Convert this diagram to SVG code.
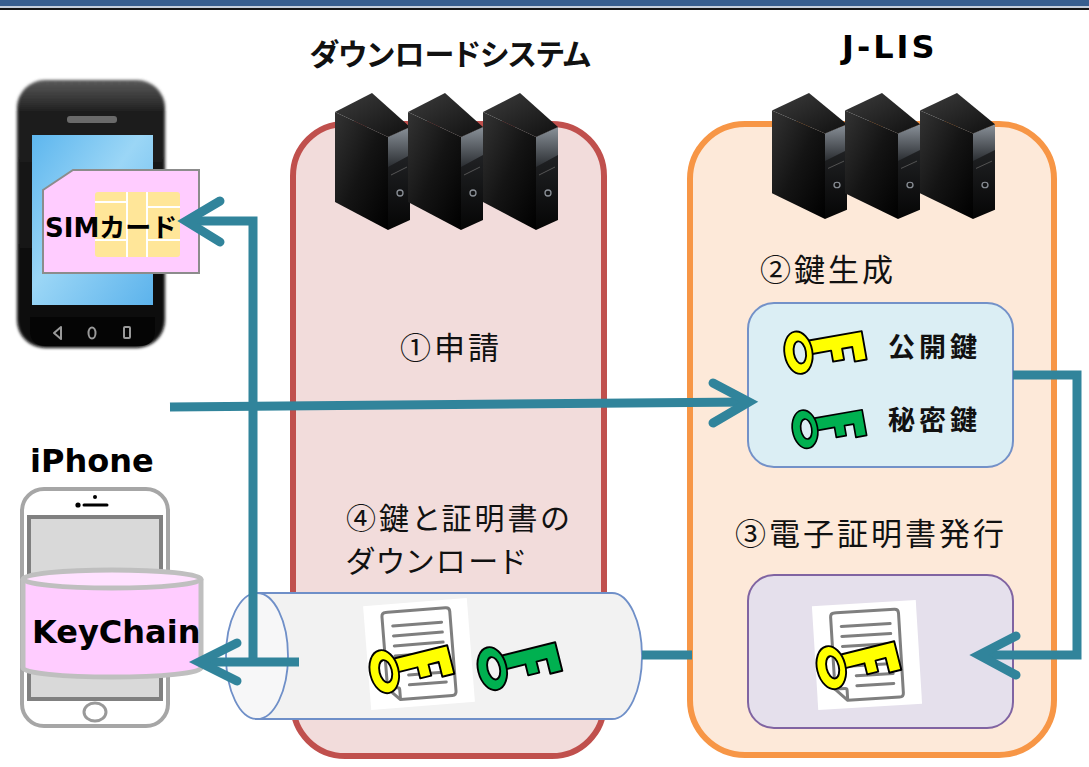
<svg xmlns="http://www.w3.org/2000/svg" xmlns:xlink="http://www.w3.org/1999/xlink" width="1089" height="767" viewBox="0 0 1089 767">
  <style>
    .jp { font-family: "Noto Sans CJK JP", "Noto Sans CJK SC", sans-serif; font-feature-settings: "palt"; fill: #111; }
    .lbl { font-size: 31px; letter-spacing: 3px; }
    .lbl2 { font-size: 30px; letter-spacing: 3px; }
    .title { font-size: 30px; font-weight: bold; }
    .kname { font-size: 27px; font-weight: bold; letter-spacing: 4px; }
    .en { font-family: "DejaVu Sans", "Noto Sans CJK JP", sans-serif; font-weight: bold; fill: #000; }
    .flow { fill: none; stroke: #31849b; stroke-width: 9; stroke-linejoin: miter; }
    .head { fill: none; stroke: #31849b; stroke-width: 9; stroke-linecap: round; stroke-linejoin: miter; }
    .keyline { stroke: #000; stroke-width: 2; stroke-linejoin: round; }
    .page-line { stroke: #7f7f7f; stroke-width: 3; stroke-linecap: round; }
  </style>
  <defs>
    <linearGradient id="srvFront" x1="0" y1="0" x2="1" y2="1">
      <stop offset="0" stop-color="#333"/>
      <stop offset="0.5" stop-color="#141414"/>
      <stop offset="1" stop-color="#000"/>
    </linearGradient>
    <linearGradient id="srvSide" x1="0" y1="0" x2="0" y2="1">
      <stop offset="0" stop-color="#2a2c2f"/>
      <stop offset="1" stop-color="#050505"/>
    </linearGradient>
    <linearGradient id="srvTop" x1="0" y1="0" x2="1" y2="1">
      <stop offset="0" stop-color="#3c3c3c"/>
      <stop offset="1" stop-color="#101010"/>
    </linearGradient>
    <linearGradient id="srvGlare" x1="0" y1="0" x2="0" y2="1">
      <stop offset="0" stop-color="#8a9199"/>
      <stop offset="1" stop-color="#2a2d31"/>
    </linearGradient>
    <linearGradient id="phoneBody" x1="0" y1="0" x2="0" y2="1">
      <stop offset="0" stop-color="#5a5a5a"/>
      <stop offset="0.12" stop-color="#1e1e1e"/>
      <stop offset="1" stop-color="#080808"/>
    </linearGradient>
    <linearGradient id="screen" x1="0" y1="0" x2="1" y2="1">
      <stop offset="0" stop-color="#5db6ee"/>
      <stop offset="0.45" stop-color="#9bd6f6"/>
      <stop offset="1" stop-color="#5cb3ec"/>
    </linearGradient>
    <filter id="soft" x="-10%" y="-10%" width="120%" height="120%">
      <feGaussianBlur stdDeviation="1.6"/>
    </filter>

    <!-- tower server, isometric -->
    <symbol id="server" overflow="visible">
      <polygon points="0,19 53,44 53,137 0,109" fill="url(#srvFront)"/>
      <polygon points="53,44 75,34 75,127 53,137" fill="url(#srvSide)"/>
      <polygon points="53,44 75,34 75,62 53,74" fill="url(#srvGlare)"/>
      <polygon points="0,19 37,0 75,34 53,44" fill="url(#srvTop)"/>
      <line x1="56" y1="82" x2="72" y2="74" stroke="#555" stroke-width="1"/>
      <circle cx="65" cy="100" r="3" fill="none" stroke="#8a8f96" stroke-width="1.3"/>
    </symbol>

    <!-- key: shaft with teeth, then ring with hole -->
    <symbol id="key" overflow="visible">
      <path class="keyline" d="M26,14 H87 V45 H74 V29 H63 V41 H51 V29 H26 Z"/>
      <path class="keyline" fill-rule="evenodd" d="M1,25 a15,23 0 1 0 30,0 a15,23 0 1 0 -30,0 Z M11,25 a6.5,12 0 1 0 13,0 a6.5,12 0 1 0 -13,0 Z"/>
    </symbol>

    <!-- certificate page on a white card -->
    <symbol id="cert" overflow="visible">
      <rect x="0" y="0" width="104" height="104" fill="#fff"/>
      <path d="M24,8 H82 Q86,8 86,12 V92 Q86,96 82,96 H30 L18,84 V12 Q18,8 22,8 Z" fill="#fff" stroke="#7f7f7f" stroke-width="3" stroke-linejoin="round"/>
      <path d="M18,84 H28 Q30,84 30,86 V96" fill="none" stroke="#7f7f7f" stroke-width="3" stroke-linejoin="round"/>
      <line class="page-line" x1="28" y1="22" x2="77" y2="22"/>
      <line class="page-line" x1="28" y1="32" x2="77" y2="32"/>
      <line class="page-line" x1="28" y1="42" x2="77" y2="42"/>
      <line class="page-line" x1="28" y1="52" x2="77" y2="52"/>
      <line class="page-line" x1="28" y1="62" x2="77" y2="62"/>
      <line class="page-line" x1="40" y1="72" x2="77" y2="72"/>
      <line class="page-line" x1="40" y1="82" x2="77" y2="82"/>
    </symbol>
  </defs>

  <rect width="1089" height="767" fill="#fff"/>

  <!-- header rule -->
  <rect x="0" y="0" width="1089" height="6" fill="#375e8f"/>
  <rect x="0" y="6" width="1089" height="2" fill="#c4cedc"/>
  <rect x="0" y="8" width="1089" height="2" fill="#151515"/>

  <!-- download system -->
  <g id="download-system">
    <rect x="293" y="124" width="311" height="632" rx="52" fill="#f2dcdb" stroke="#c0504d" stroke-width="6"/>
    <text class="jp title" x="450" y="65" text-anchor="middle">ダウンロードシステム</text>
    <use href="#server" x="335" y="93"/>
    <use href="#server" x="408" y="93"/>
    <use href="#server" x="483" y="93"/>
    <text class="jp lbl" x="451" y="359" text-anchor="middle">①申請</text>
    <text class="jp lbl2" x="346" y="529">④鍵と証明書の</text>
    <text class="jp lbl2" x="346" y="572">ダウンロード</text>
  </g>

  <!-- J-LIS -->
  <g id="jlis">
    <rect x="690" y="124" width="364" height="631" rx="55" fill="#fde9d9" stroke="#f79646" stroke-width="6"/>
    <text class="en" x="842" y="58" font-size="32" letter-spacing="3">J-LIS</text>
    <g transform="translate(772,93) scale(1,0.92)">
      <use href="#server" x="0" y="0"/>
      <use href="#server" x="73" y="0"/>
      <use href="#server" x="148" y="0"/>
    </g>
    <text class="jp lbl" x="760" y="281">②鍵生成</text>
    <text class="jp lbl" x="735" y="545">③電子証明書発行</text>
  </g>

  <!-- key pair -->
  <g id="key-pair">
    <rect x="748" y="303" width="265" height="164" rx="26" fill="#dbeef4" stroke="#7391c8" stroke-width="2"/>
    <use href="#key" fill="#ffff00" transform="translate(825,348) rotate(-10) scale(0.93) translate(-45,-25)"/>
    <use href="#key" fill="#00b050" transform="translate(829,425) rotate(-10) scale(0.84) translate(-45,-25)"/>
    <text class="jp kname" x="888" y="357">公開鍵</text>
    <text class="jp kname" x="888" y="430">秘密鍵</text>
  </g>

  <!-- issued certificate -->
  <g id="certificate">
    <rect x="748" y="575" width="265" height="153" rx="26" fill="#e5e0ec" stroke="#8064a2" stroke-width="2"/>
    <use href="#cert" transform="translate(867,655) rotate(-3.5) translate(-52,-52)"/>
    <use href="#key" fill="#ffff00" transform="translate(858,661) rotate(-14) scale(0.95) translate(-45,-25)"/>
  </g>

  <!-- delivery pipe -->
  <g id="pipe">
    <path d="M257,593 H612 A30,63 0 0 1 612,719 H257 Z" fill="#f2f2f2" stroke="#6f8fc8" stroke-width="1.8"/>
    <ellipse cx="257" cy="656" rx="31" ry="63" fill="#f7f7f8" stroke="#6f8fc8" stroke-width="1.8"/>
    <use href="#cert" transform="translate(419,654) rotate(-4.5) translate(-52,-52)"/>
    <use href="#key" fill="#ffff00" transform="translate(411,665) rotate(-14) scale(0.95) translate(-45,-25)"/>
    <use href="#key" fill="#00b050" transform="translate(519,662) rotate(-14) scale(0.95) translate(-45,-25)"/>
  </g>

  <!-- Android handset with SIM -->
  <g id="android-phone">
    <rect x="17" y="80" width="148" height="268" rx="28" fill="url(#phoneBody)" filter="url(#soft)"/>
    <rect x="67" y="116" width="50" height="7" rx="3" fill="#6a6a6a"/>
    <rect x="32" y="135" width="121" height="170" fill="url(#screen)"/>
    <path d="M30,317 H155 V330 Q155,346 139,346 H46 Q30,346 30,330 Z" fill="#050505"/>
    <polygon points="61,327 54,333 61,339" fill="none" stroke="#9a9a9a" stroke-width="2" stroke-linejoin="round"/>
    <ellipse cx="92" cy="333" rx="3.5" ry="5.5" fill="none" stroke="#9a9a9a" stroke-width="2"/>
    <rect x="124" y="327" width="6" height="11" rx="1" fill="none" stroke="#9a9a9a" stroke-width="2"/>
  </g>
  <g id="sim-card">
    <path d="M43,190 L73,170 H199 V273 H43 Z" fill="#ffccff" stroke="#8c8c8c" stroke-width="2"/>
    <rect x="95" y="192" width="85" height="65" rx="3" fill="#ffe699"/>
    <g stroke="#fff" stroke-width="2">
      <line x1="127" y1="192" x2="127" y2="257"/>
      <line x1="147" y1="192" x2="147" y2="257"/>
      <line x1="95" y1="202" x2="127" y2="202"/>
      <line x1="95" y1="240" x2="127" y2="240"/>
      <line x1="147" y1="207" x2="180" y2="207"/>
      <line x1="147" y1="240" x2="180" y2="240"/>
    </g>
    <text class="en" x="45" y="237" font-size="26">SIMカード</text>
  </g>

  <!-- iPhone with KeyChain store -->
  <g id="iphone">
    <text class="en" x="30" y="472" font-size="32">iPhone</text>
    <rect x="22" y="489" width="146" height="237" rx="22" fill="#fff" stroke="#a6a6a6" stroke-width="4"/>
    <rect x="29" y="517" width="132" height="182" fill="#d9d9d9" stroke="#808080" stroke-width="4"/>
    <circle cx="78" cy="505" r="2.6" fill="#000"/>
    <line x1="84" y1="505" x2="107" y2="505" stroke="#000" stroke-width="3" stroke-linecap="round"/>
    <circle cx="95" cy="497" r="2" fill="#000"/>
    <ellipse cx="95" cy="712" rx="11" ry="9" fill="#fff" stroke="#999" stroke-width="3"/>
  </g>
  <g id="keychain">
    <path d="M23,579 V668 A89,9 0 0 0 201,668 V579" fill="#ffccff" stroke="#bfbfbf" stroke-width="5"/>
    <ellipse cx="112" cy="579" rx="89" ry="9" fill="#ffe1ff" stroke="#bfbfbf" stroke-width="5"/>
    <text class="en" x="32" y="643" font-size="32">KeyChain</text>
  </g>

  <!-- flows -->
  <g id="connectors">
    <line class="flow" x1="170" y1="407" x2="749" y2="402"/>
    <polyline class="head" points="713,383 749,402 713,423"/>

    <polyline class="flow" points="1013,375 1077,375 1077,655 979,655"/>
    <polyline class="head" points="1016,636 979,655 1016,675"/>

    <line class="flow" x1="642" y1="655" x2="692" y2="655"/>

    <polyline class="flow" points="253,662 253,221 186,221"/>
    <polyline class="head" points="220,201 186,221 220,242"/>

    <line class="flow" x1="299" y1="662" x2="199" y2="662"/>
    <polyline class="head" points="237,643 199,662 237,681"/>
  </g>
</svg>
